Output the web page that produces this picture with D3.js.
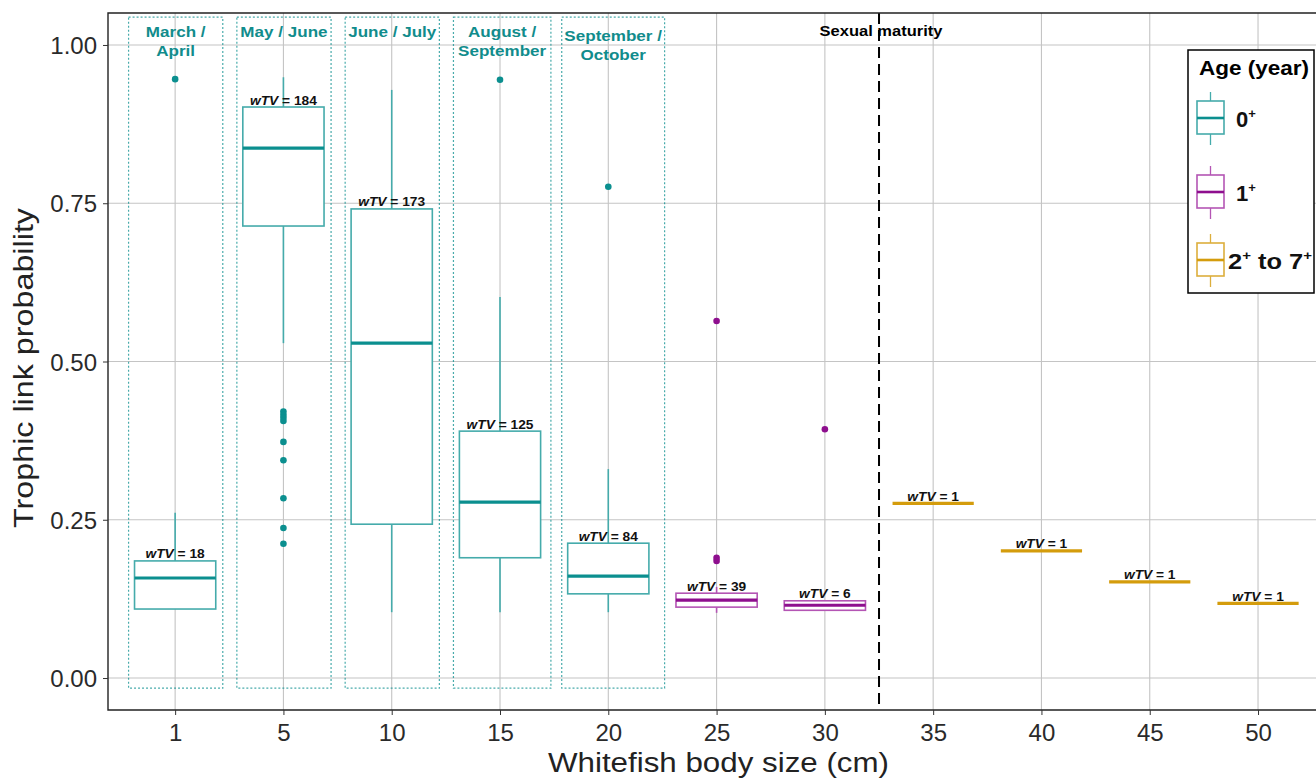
<!DOCTYPE html>
<html><head><meta charset="utf-8">
<script src="https://cdn.jsdelivr.net/npm/d3@7"></script>
<style>body{margin:0;background:#fff;} text{font-family:"Liberation Sans",Arial,sans-serif;}</style>
</head><body><svg id="c" width="1316" height="778"></svg>
<script>
// ---------- data ----------
const categories = ["1","5","10","15","20","25","30","35","40","45","50"];
const ageGroups  = ["0","0","0","0","0","1","1","2","2","2","2"];
const q1       = [0.109,0.714,0.243,0.190,0.133,0.112,0.107,0.276,0.201,0.152,0.118];
const medians  = [0.158,0.837,0.529,0.278,0.161,0.123,0.115,0.276,0.201,0.152,0.118];
const q3       = [0.185,0.902,0.741,0.390,0.213,0.134,0.122,0.276,0.201,0.152,0.118];
const whiskLow = [0.109,0.529,0.104,0.104,0.104,0.103,0.107,0.276,0.201,0.152,0.118];
const whiskHigh= [0.261,0.949,0.929,0.602,0.330,0.144,0.122,0.276,0.201,0.152,0.118];
const outliers = [[0.946],[0.421,0.416,0.411,0.406,0.373,0.344,0.284,0.237,0.212],[],[0.945],[0.776],[0.190,0.185,0.564],[0.393],[],[],[],[]];
const wTV = [18,184,173,125,84,39,6,1,1,1,1];
const seasonLabels = [["March /","April"],["May / June"],["June / July"],["August /","September"],["September /","October"]];
const yTicks = [0,0.25,0.5,0.75,1];
const legendLabels = [["0",""],["1",""],["2"," to 7"]];
const maturityLabel = "Sexual maturity";

// ---------- styles ----------
const colMain = {"0":"#0b8f8f","1":"#8e0f8e","2":"#d49c0c"};
const colLight= {"0":"#45abab","1":"#b455b4","2":"#dcae3c"};

const svg = d3.select("#c");
const L=108, T=13, B=710, R=1323;
const xPos = d3.scaleLinear().domain([-0.62,10.6]).range([L,R]);
const xCat = d3.scalePoint().domain(categories).range([xPos(0),xPos(10)]);
const y = d3.scaleLinear().domain([-0.0505,1.0505]).range([B,T]);
const bw = 0.75/2;

function stretch(sel,k){sel.each(function(){const l=this.getComputedTextLength();this.setAttribute("textLength",l*k);this.setAttribute("lengthAdjust","spacingAndGlyphs");});}

svg.append("clipPath").attr("id","pc").append("rect").attr("x",L).attr("y",T).attr("width",R-L).attr("height",B-T);
const g = svg.append("g").attr("clip-path","url(#pc)");

// grid
g.selectAll(".gy").data(yTicks).join("line").attr("x1",L).attr("x2",R).attr("y1",d=>y(d)).attr("y2",d=>y(d)).attr("stroke","#c4c4c4").attr("stroke-width",1.1);
g.selectAll(".gx").data(categories).join("line").attr("y1",T).attr("y2",B).attr("x1",d=>xCat(d)).attr("x2",d=>xCat(d)).attr("stroke","#c4c4c4").attr("stroke-width",1.1);

// season rectangles
const rightOff=[0.44,0.44,0.44,0.47,0.52];
seasonLabels.forEach((lines,i)=>{
  const x0=xPos(i-0.43), x1=xPos(i+rightOff[i]);
  g.append("rect").attr("x",x0).attr("y",y(1.044)).attr("width",x1-x0).attr("height",y(-0.016)-y(1.044))
    .attr("fill","none").attr("stroke",colMain["0"]).attr("stroke-opacity",0.75).attr("stroke-width",1.2).attr("stroke-dasharray","2,2");
  const cx=(x0+x1)/2, base = y(1.044)+ (i===4?24:20);
  lines.forEach((t,j)=>{
    const tx=g.append("text").attr("x",cx).attr("y",base+j*19).attr("text-anchor","middle").attr("font-size",15.5).attr("font-weight","bold").attr("fill","#118c8c").text(t);
    stretch(tx,1.1);
  });
});

// boxplots
categories.forEach((c,i)=>{
  const a=ageGroups[i], cx=xCat(c), x0=xPos(i-bw), x1=xPos(i+bw);
  const cm=colMain[a], cl=colLight[a];
  if(a!=="2"){
    g.append("line").attr("x1",cx).attr("x2",cx).attr("y1",y(q3[i])).attr("y2",y(whiskHigh[i])).attr("stroke",cl).attr("stroke-width",1.6);
    g.append("line").attr("x1",cx).attr("x2",cx).attr("y1",y(q1[i])).attr("y2",y(whiskLow[i])).attr("stroke",cl).attr("stroke-width",1.6);
    g.append("rect").attr("x",x0).attr("y",y(q3[i])).attr("width",x1-x0).attr("height",y(q1[i])-y(q3[i])).attr("fill","#fff").attr("stroke",cl).attr("stroke-width",1.6);
    g.append("line").attr("x1",x0).attr("x2",x1).attr("y1",y(medians[i])).attr("y2",y(medians[i])).attr("stroke",cm).attr("stroke-width",3.2);
  } else {
    g.append("line").attr("x1",x0).attr("x2",x1).attr("y1",y(medians[i])).attr("y2",y(medians[i])).attr("stroke",cm).attr("stroke-width",3.2);
  }
  g.selectAll(null).data(outliers[i]).join("circle").attr("cx",cx).attr("cy",d=>y(d)).attr("r",3.3).attr("fill",cm);
});

// sexual maturity
g.append("line").attr("x1",xPos(6.5)).attr("x2",xPos(6.5)).attr("y1",T).attr("y2",B).attr("stroke","#000").attr("stroke-width",2).attr("stroke-dasharray","11,6");
stretch(svg.append("text").attr("x",xPos(6.5)+2).attr("y",36).attr("text-anchor","middle").attr("font-size",15).attr("font-weight","bold").text(maturityLabel),1.1);

// wTV labels
categories.forEach((c,i)=>{
  const t=svg.append("text").attr("x",xCat(c)).attr("y",y(q3[i])-2.5).attr("text-anchor","middle").attr("font-size",12.5).attr("font-weight","bold").attr("fill","#111");
  t.append("tspan").attr("font-style","italic").text("wTV");
  t.append("tspan").text(" = "+wTV[i]);
  stretch(t,1.1);
});

// panel border
svg.append("path").attr("d",`M${R},${T}H${L}V${B}H${R}`).attr("fill","none").attr("stroke","#222").attr("stroke-width",1.4);

// axes
const ax=svg.append("g").attr("transform",`translate(0,${B})`).call(d3.axisBottom(xCat).tickSize(5).tickPadding(9));
ax.select(".domain").remove();
ax.selectAll("text").attr("font-size",24).attr("fill","#2a2a2a").attr("font-family","Liberation Sans, Arial");
ax.selectAll("line").attr("stroke","#333");
const ay=svg.append("g").attr("transform",`translate(${L},0)`).call(d3.axisLeft(y).tickValues(yTicks).tickFormat(d3.format(".2f")).tickSize(5).tickPadding(6));
ay.select(".domain").remove();
ay.selectAll("text").attr("font-size",24).attr("fill","#2a2a2a").attr("font-family","Liberation Sans, Arial").attr("dy","0.36em");
ay.selectAll("line").attr("stroke","#333");

svg.append("text").attr("x",(L+R)/2+3).attr("y",772).attr("text-anchor","middle").attr("font-size",27).attr("fill","#222").text("Whitefish body size (cm)")
  .attr("textLength",341).attr("lengthAdjust","spacingAndGlyphs");
svg.append("text").attr("transform",`translate(33,368) rotate(-90)`).attr("text-anchor","middle").attr("font-size",27).attr("fill","#222").text("Trophic link probability")
  .attr("textLength",320).attr("lengthAdjust","spacingAndGlyphs");

// legend
const lg=svg.append("g");
lg.append("rect").attr("x",1188).attr("y",50).attr("width",126).attr("height",243).attr("fill","#fff").attr("stroke","#000").attr("stroke-width",1.5);
lg.append("text").attr("x",1199).attr("y",75).attr("font-size",20).attr("font-weight","bold").text("Age (year)")
  .attr("textLength",110).attr("lengthAdjust","spacingAndGlyphs");
["0","1","2"].forEach((a,k)=>{
  const cy=[118,192,260][k], x0=1197, x1=1224, cx=(x0+x1)/2;
  lg.append("line").attr("x1",cx).attr("x2",cx).attr("y1",cy-26).attr("y2",cy+27).attr("stroke",colLight[a]).attr("stroke-width",1.3);
  lg.append("rect").attr("x",x0).attr("y",cy-17).attr("width",x1-x0).attr("height",33).attr("fill","#fff").attr("stroke",colLight[a]).attr("stroke-width",1.6);
  lg.append("line").attr("x1",x0).attr("x2",x1).attr("y1",cy).attr("y2",cy).attr("stroke",colMain[a]).attr("stroke-width",2.6);
  const t=lg.append("text").attr("x",a==="2"?1228:1236).attr("y",cy+9).attr("font-size",22).attr("font-weight","bold").attr("fill","#111");
  const lab=legendLabels[k];
  t.append("tspan").text(lab[0]);
  t.append("tspan").attr("font-size",13).attr("dy",-9).text("+");
  if(lab[1]){t.append("tspan").attr("dy",9).attr("font-size",22).text(lab[1]);t.append("tspan").attr("font-size",13).attr("dy",-9).text("+");}
  if(a==="2") t.attr("textLength",84).attr("lengthAdjust","spacingAndGlyphs");
});
</script></body></html>
